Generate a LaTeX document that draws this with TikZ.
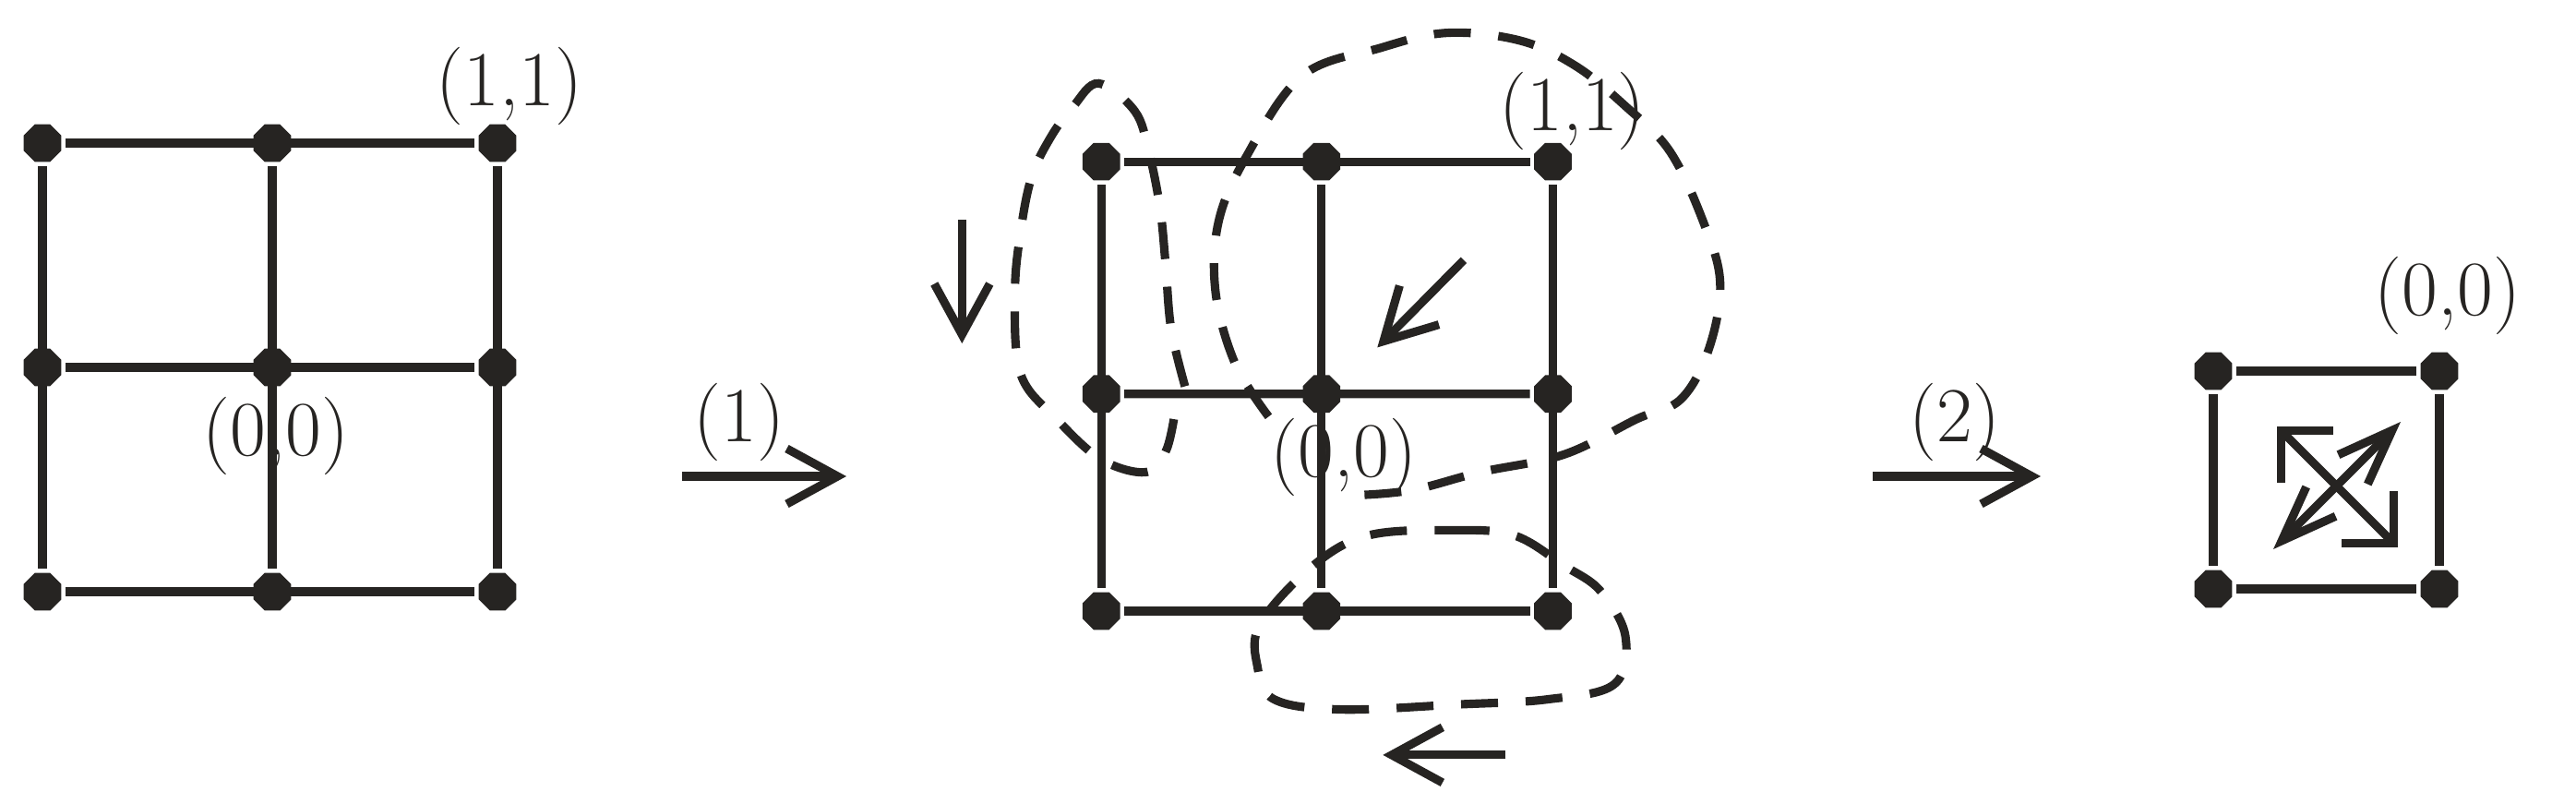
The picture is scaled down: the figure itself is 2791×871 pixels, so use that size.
\documentclass[tikz,border=0pt]{standalone}
\usetikzlibrary{arrows.meta,shapes.geometric}
\definecolor{ink}{HTML}{262422}
\begin{document}
\begin{tikzpicture}[x=0.1mm,y=-0.1mm,line width=2.6pt,color=ink,
  vtx/.style={regular polygon,regular polygon sides=8,fill=ink,draw=none,minimum size=4.4mm,inner sep=0pt},
  lbl/.style={font=\fontsize{24}{28}\selectfont,inner sep=0pt},
  dsh/.style={dash pattern=on 4mm off 3mm},
  bigarr/.style={-{Straight Barb[length=5.5mm,width=6mm]}},
  dbl/.style={{Straight Barb[length=5mm,width=5mm]}-{Straight Barb[length=5mm,width=5mm]}}]
\useasboundingbox (0,0) rectangle (2791,871);
% left grid
\foreach \i/\x in {0/46,1/295,2/539}{\foreach \j/\y in {0/155,1/398,2/641}{\node[vtx] (L\i\j) at (\x,\y) {};}}
\foreach \i in {0,1,2}{\draw (L\i0)--(L\i2); \draw (L0\i)--(L2\i);}
\node[lbl] (l11) at (552,93) {(1,1)};
\node[lbl] (l00) at (299,472) {(0,0)};
% arrow 1
\coordinate (a1s) at (739,516); \coordinate (a1e) at (917,516);
\draw[bigarr] (a1s)--(a1e);
\node[lbl] (t1) at (801,457) {(1)};
% middle grid
\begin{scope}[shift={(1000,11)},xscale=0.604,yscale=0.547]
\foreach \i/\x in {0/320,1/715,2/1130}{\foreach \j/\y in {0/300,1/760,2/1190}{\node[vtx] (M\i\j) at (\x,\y) {};}}
\foreach \i in {0,1,2}{\draw (M\i0)--(M\i2); \draw (M0\i)--(M2\i);}
\draw[dsh] plot[smooth,tension=0.6] coordinates {(620,805) (560,700) (525,560) (530,420) (580,290) (680,130) (820,75) (940,45) (1070,60) (1170,110) (1260,190) (1340,280) (1400,420) (1430,540) (1410,670) (1360,770) (1280,810) (1150,880) (1000,915) (880,950) (790,960)};
\draw[dsh] plot[smooth,tension=0.6] coordinates {(470,745) (445,630) (435,500) (425,390) (405,280) (380,200) (315,145) (270,190) (230,250) (195,330) (175,440) (165,560) (175,720) (240,810) (320,890) (400,915) (435,875) (450,810)};
\draw[dsh] plot[smooth cycle,tension=0.6] coordinates {(800,1040) (950,1030) (1060,1040) (1150,1100) (1215,1150) (1260,1240) (1240,1335) (1120,1365) (960,1375) (750,1385) (630,1365) (600,1300) (605,1215) (700,1100)};
\coordinate (d1s) at (70,415); \coordinate (d1e) at (70,660);
\draw[bigarr] (d1s)--(d1e);
\coordinate (d2s) at (970,495); \coordinate (d2e) at (815,668);
\draw[bigarr] (d2s)--(d2e);
\coordinate (d3s) at (1045,1475); \coordinate (d3e) at (825,1475);
\draw[bigarr] (d3s)--(d3e);
\node[lbl] (m11) at (1165,200) {(1,1)};
\node[lbl] (m00) at (755,885) {(0,0)};
\end{scope}
% arrow 2
\coordinate (a2s) at (2029,516); \coordinate (a2e) at (2211,516);
\draw[bigarr] (a2s)--(a2e);
\node[lbl] (t2) at (2118,457) {(2)};
% right square
\node[vtx] (R00) at (2398,402) {};
\node[vtx] (R10) at (2643,402) {};
\node[vtx] (R01) at (2398,638) {};
\node[vtx] (R11) at (2643,638) {};
\draw (R00)--(R10)--(R11)--(R01)--(R00);
\node[lbl] (r00) at (2652,320) {(0,0)};
\coordinate (x1) at (2467,462); \coordinate (x2) at (2598,593);
\coordinate (y1) at (2463,595); \coordinate (y2) at (2601,457);
\draw[{Straight Barb[length=4mm,width=8mm]}-{Straight Barb[length=4mm,width=8mm]}] (x1)--(x2);
\draw[{Straight Barb[length=6mm,width=4.5mm]}-{Straight Barb[length=6mm,width=4.5mm]}] (y1)--(y2);
\end{tikzpicture}
\end{document}
